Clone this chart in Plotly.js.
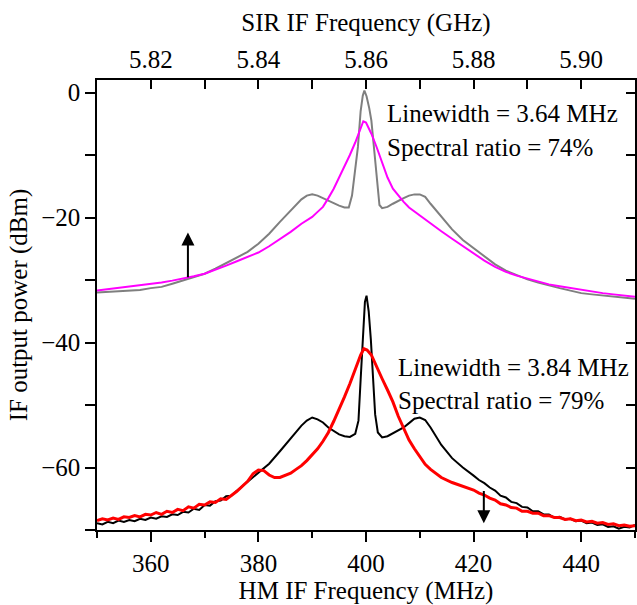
<!DOCTYPE html>
<html>
<head>
<meta charset="utf-8">
<script src="https://cdn.plot.ly/plotly-3.0.1.min.js"></script>
<style>html,body{margin:0;padding:0;background:#fff;}#chart{width:637px;height:605px;}</style>
</head>
<body>
<div id="chart"></div>
<script>
// HM IF frequency (MHz) axis ticks and SIR IF frequency (GHz) ticks
var hmTicks = [360, 380, 400, 420, 440];
var sirTicks = [5.82, 5.84, 5.86, 5.88, 5.90];
var powerTicks = [0, -20, -40, -60];

// Upper pair: gray (free-running) and magenta (locked)
var grayX = [350,352,354,356,358,360,362,364,366,368,370,372,374,376,378,380,382,384,386,388,389,390,391,392,393,394,395,396,396.8,397.4,398,398.5,399,399.4,399.7,400.1,400.6,401,401.5,402,402.5,403,403.5,404,405,406,407,408,409,410,411,412,413,414,416,418,420,422,424,426,428,430,432,434,436,438,440,442,444,446,448,450];
var grayY = [-32.0,-31.9,-31.9,-31.7,-31.6,-31.3,-31.1,-30.6,-30.1,-29.6,-29.0,-28.2,-27.3,-26.5,-25.5,-24.2,-22.6,-20.7,-18.9,-17.1,-16.5,-16.3,-16.5,-16.9,-17.4,-17.8,-18.1,-18.4,-18.4,-16.5,-12.5,-8.7,-3.0,-0.5,0.3,-0.6,-2.5,-4.5,-9.0,-14.0,-18.0,-18.5,-18.4,-18.3,-17.8,-17.3,-16.9,-16.5,-16.3,-16.3,-16.7,-17.8,-18.8,-19.8,-21.9,-23.6,-24.9,-26.3,-27.5,-28.5,-29.2,-29.9,-30.4,-30.9,-31.3,-31.7,-32.1,-32.3,-32.5,-32.7,-32.9,-33.0];
var magX = [350,352,354,356,358,360,362,364,366,368,370,372,374,376,378,380,382,384,386,388,390,391,392,393,394,395,396,397,398,399,399.5,400,400.5,401,402,403,404,405,406,407,408,410,412,414,416,418,420,422,424,426,428,430,432,434,436,438,440,442,444,446,448,450];
var magY = [-31.7,-31.5,-31.3,-31.1,-30.9,-30.7,-30.4,-30.1,-29.8,-29.4,-29.0,-28.4,-27.7,-27.0,-26.3,-25.6,-24.6,-23.5,-22.3,-21.0,-19.9,-19.1,-18.3,-16.9,-15.4,-13.6,-11.9,-10.0,-8.0,-5.6,-4.6,-4.8,-5.6,-6.6,-8.8,-11.2,-13.6,-15.4,-16.5,-17.5,-18.4,-19.7,-20.9,-22.2,-23.4,-24.6,-25.8,-26.9,-27.9,-28.7,-29.3,-29.8,-30.3,-30.7,-31.0,-31.3,-31.6,-31.9,-32.1,-32.3,-32.5,-32.7];

// Lower pair: black (free-running) and red (locked)
var blackX = [350,351,352,353,354,355,356,357,358,359,360,361,362,363,364,365,366,367,368,369,370,371,372,373,374,375,376,
              378,380,382,384,386,388,389,390,391,392,393,394,395,396,397,398,398.6,399,399.4,399.8,400.1,400.5,400.9,401.3,401.7,402.2,403,404,405,406,407,408,409,410,411,412,413,414,416,418,
              420,421,422,423,424,425,426,427,428,429,430,431,432,433,434,435,436,437,438,439,440,441,442,443,444,445,446,447,448,449,450];
var blackY = [-68.9,-69.1,-68.7,-68.9,-68.5,-68.7,-68.4,-68.6,-68.2,-68.4,-68.0,-68.2,-67.8,-67.9,-67.5,-67.6,-67.1,-67.2,-66.6,-66.8,-66.0,-66.1,-65.4,-65.3,-64.6,-64.5,-63.7,
              -62.3,-60.8,-59.4,-57.4,-55.3,-53.3,-52.5,-52.0,-52.3,-52.8,-53.6,-54.2,-54.7,-55.0,-55.1,-54.6,-52.5,-46.0,-39.0,-33.5,-32.5,-35.0,-39.5,-46.0,-51.5,-54.4,-55.2,-55.0,-54.5,-54.0,-53.6,-52.9,-52.2,-52.0,-52.4,-53.6,-55.0,-56.4,-58.5,-60.0,
              -61.3,-62.0,-62.5,-63.2,-63.7,-64.5,-64.8,-65.5,-65.7,-66.3,-66.4,-67.0,-67.0,-67.5,-67.5,-68.0,-67.9,-68.3,-68.2,-68.6,-68.5,-68.9,-68.8,-69.2,-69.1,-69.5,-69.4,-69.8,-69.5,-69.6,-69.2];
var redX = [350,351,352,353,354,355,356,357,358,359,360,361,362,363,364,365,366,367,368,369,370,371,372,373,374,375,376,
            378,379,380,381,382,383,384,385,386,387,388,389,390,391,392,393,394,395,396,397,398,399,399.6,400.2,401,402,403,404,405,406,407,408,409,410,411,412,414,416,418,
            420,421,422,423,424,425,426,427,428,429,430,431,432,433,434,435,436,437,438,439,440,441,442,443,444,445,446,447,448,449,450];
var redY = [-68.5,-68.2,-68.4,-68.1,-68.3,-67.9,-68.0,-67.7,-67.9,-67.5,-67.6,-67.2,-67.5,-67.0,-67.2,-66.7,-66.9,-66.3,-66.5,-65.9,-66.0,-65.5,-65.6,-65.0,-65.1,-64.4,-63.8,
            -62.2,-61.0,-60.4,-60.5,-61.2,-61.6,-61.6,-61.3,-60.9,-60.3,-59.7,-58.9,-58.0,-57.0,-55.8,-54.4,-52.6,-50.7,-48.7,-46.6,-44.3,-42.0,-41.0,-41.2,-42.0,-44.0,-45.8,-47.6,-49.5,-51.8,-53.8,-55.6,-57.0,-58.3,-59.5,-60.3,-61.6,-62.4,-63.0,
            -63.6,-64.1,-64.4,-64.9,-65.2,-65.8,-66.0,-66.4,-66.5,-67.0,-67.0,-67.3,-67.3,-67.7,-67.7,-68.0,-68.0,-68.3,-68.2,-68.5,-68.4,-68.7,-68.6,-68.9,-68.8,-69.1,-69.0,-69.3,-69.2,-69.4,-69.3];

// Annotation texts
var upperText = ['Linewidth = 3.64 MHz', 'Spectral ratio = 74%'];
var lowerText = ['Linewidth = 3.84 MHz', 'Spectral ratio = 79%'];

var F = 'Liberation Serif';

var traces = [
  {x: grayX, y: grayY, mode: 'lines', line: {color: '#7f7f7f', width: 2}, hoverinfo: 'skip'},
  {x: magX, y: magY, mode: 'lines', line: {color: '#ff00ff', width: 2}, hoverinfo: 'skip'},
  {x: blackX, y: blackY, mode: 'lines', line: {color: '#000000', width: 2}, hoverinfo: 'skip'},
  {x: redX, y: redY, mode: 'lines', line: {color: '#ff0000', width: 3}, hoverinfo: 'skip'},
  {x: sirTicks, y: sirTicks.map(function(){return null;}), xaxis: 'x2', yaxis: 'y2', mode: 'lines', hoverinfo: 'skip', showlegend: false}
];

function txt(x, y, s) {
  return {x: x, y: y, xref: 'x', yref: 'y', text: s, showarrow: false, xanchor: 'left', yanchor: 'middle',
          font: {family: F, size: 25, color: '#000'}};
}
function arrow(x, y0, y1) {
  return {x: x, y: y1, ax: x, ay: y0, xref: 'x', yref: 'y', axref: 'x', ayref: 'y', text: '',
          showarrow: true, arrowhead: 2, arrowsize: 1.3, arrowwidth: 2, arrowcolor: '#000'};
}

var layout = {
  width: 637, height: 605,
  margin: {l: 97, r: 2, t: 80, b: 75},
  paper_bgcolor: '#fff', plot_bgcolor: '#fff',
  showlegend: false,
  font: {family: F, size: 25, color: '#000'},
  xaxis: {
    range: [350, 450], tickvals: hmTicks, ticks: 'outside', ticklen: 10, tickwidth: 1.5, tickcolor: '#000',
    minor: {dtick: 10, tick0: 350, ticks: 'outside', ticklen: 6, tickwidth: 1.5, tickcolor: '#000'},
    showline: true, linecolor: '#000', linewidth: 1.5, showgrid: false, zeroline: false,
    tickfont: {family: F, size: 25, color: '#000'},
    title: {text: 'HM IF Frequency (MHz)', font: {family: F, size: 25, color: '#000'}, standoff: 4}
  },
  xaxis2: {
    overlaying: 'x', side: 'top', range: [5.81, 5.91], tickvals: sirTicks, tickformat: '.2f',
    ticks: 'inside', ticklen: 9, tickwidth: 1.5, tickcolor: '#000',
    minor: {dtick: 0.01, tick0: 5.81, ticks: 'inside', ticklen: 9, tickwidth: 1.5, tickcolor: '#000'},
    showline: true, linecolor: '#000', linewidth: 1.5, showgrid: false, zeroline: false,
    tickfont: {family: F, size: 25, color: '#000'},
    title: {text: 'SIR IF Frequency (GHz)', font: {family: F, size: 25, color: '#000'}, standoff: 8}
  },
  yaxis: {
    range: [-70, 2], tickvals: powerTicks, ticks: 'outside', ticklen: 10, tickwidth: 1.5, tickcolor: '#000',
    minor: {dtick: 10, tick0: 0, ticks: 'outside', ticklen: 10, tickwidth: 1.5, tickcolor: '#000'},
    showline: true, linecolor: '#000', linewidth: 1.5, showgrid: false, zeroline: false,
    tickfont: {family: F, size: 25, color: '#000'},
    title: {text: 'IF output power (dBm)', font: {family: F, size: 25, color: '#000'}, standoff: 6}
  },
  yaxis2: {
    overlaying: 'y', side: 'right', range: [-70, 2], dtick: 10, tick0: 0, ticks: 'inside', ticklen: 9,
    tickwidth: 1.5, tickcolor: '#000', showticklabels: false,
    showline: true, linecolor: '#000', linewidth: 1.5, showgrid: false, zeroline: false
  },
  annotations: [
    txt(403.6, -3.4, upperText[0]),
    txt(403.6, -8.8, upperText[1]),
    txt(405.5, -44.0, lowerText[0]),
    txt(405.5, -49.3, lowerText[1]),
    arrow(366.9, -29.8, -22.4),
    arrow(421.9, -63.5, -68.9)
  ]
};

Plotly.newPlot('chart', traces, layout, {displayModeBar: false});
</script>
</body>
</html>
